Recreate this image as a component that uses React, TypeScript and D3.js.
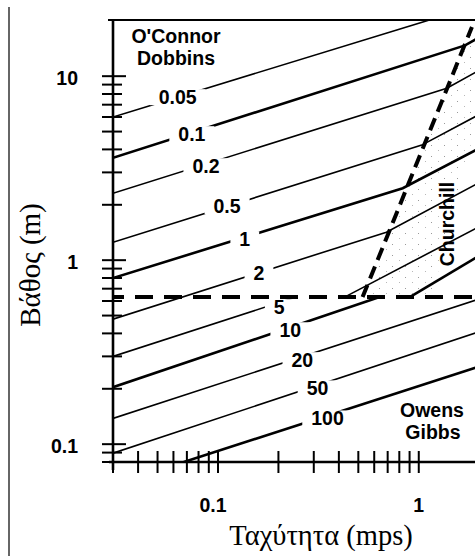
import React from 'react';
import * as d3 from 'd3';

// Reaeration coefficient lines (1/day), vertices: velocity (m/s), depth (m)
const kLabels = ['0.05', '0.1', '0.2', '0.5', '1', '2', '5', '10', '20', '50', '100'];
const k005V = [0.03, 1.13];
const k005D = [6.0, 20.2];
const k01V = [0.03, 1.7, 1.95];
const k01D = [3.6, 14.7, 16.0];
const k02V = [0.03, 1.38, 1.95];
const k02D = [2.31, 8.6, 10.6];
const k05V = [0.03, 1.035, 1.95];
const k05D = [1.25, 4.22, 6.1];
const k1V = [0.03, 0.832, 1.95];
const k1D = [0.8, 2.46, 4.0];
const k2V = [0.03, 0.69, 1.95];
const k2D = [0.478, 1.42, 2.6];
const k5V = [0.03, 0.245];
const k5D = [0.3, 0.63];
const k5ChurchillV = [0.427, 1.95];
const k5ChurchillD = [0.63, 1.5];
const k10V = [0.03, 0.638];
const k10D = [0.204, 0.63];
const k10ChurchillV = [0.902, 1.95];
const k10ChurchillD = [0.63, 1.04];
const k20V = [0.03, 1.95];
const k20D = [0.138, 0.61];
const k50V = [0.03, 1.95];
const k50D = [0.0893, 0.405];
const k100V = [0.0676, 1.95];
const k100D = [0.08, 0.262];

// where each k label sits
const labelV = [0.063, 0.0741, 0.0871, 0.111, 0.136, 0.16, 0.202, 0.229, 0.263, 0.313, 0.351];
const labelD = [7.69, 4.84, 3.24, 1.97, 1.3, 0.85, 0.555, 0.416, 0.286, 0.201, 0.138];

// regime boundaries
const owensDepth = 0.63;
const boundaryV = [0.525, 1.84];
const boundaryD = [0.63, 18.5];
// stippled transition band right of the boundary
const bandV = [0.525, 1.84, 1.95, 1.95, 1.16];
const bandD = [0.63, 18.5, 18.5, 5.77, 0.63];

const xTickLabels = [0.1, 1];
const yTickLabels = [0.1, 1, 10];

const W = 475;
const H = 556;
const left = 113;
const right = 477;
const top = 20;
const bottom = 462;

const x = d3.scaleLog().domain([0.03, 1.95]).range([left, right]);
const y = d3.scaleLog().domain([0.08, 20.2]).range([bottom, top]);

const sans = "'Liberation Sans', Arial, Helvetica, sans-serif";
const serif = "'Liberation Serif', 'Times New Roman', serif";

const toPts = (v: number[], d: number[]) => v.map((vv, i) => [x(vv), y(d[i])] as [number, number]);

export default function App() {
  const line = d3.line();

  const curves = [
    { v: k005V, d: k005D, bold: false },
    { v: k01V, d: k01D, bold: true },
    { v: k02V, d: k02D, bold: false },
    { v: k05V, d: k05D, bold: false },
    { v: k1V, d: k1D, bold: true },
    { v: k2V, d: k2D, bold: false },
    { v: k5V, d: k5D, bold: false },
    { v: k5ChurchillV, d: k5ChurchillD, bold: false },
    { v: k10V, d: k10D, bold: true },
    { v: k10ChurchillV, d: k10ChurchillD, bold: true },
    { v: k20V, d: k20D, bold: false },
    { v: k50V, d: k50D, bold: false },
    { v: k100V, d: k100D, bold: true },
  ];

  // minor + major ticks
  const yTicks: number[] = [];
  const xTicks: number[] = [];
  [0.01, 0.1, 1].forEach((p) => {
    for (let m = 1; m <= 9; m++) yTicks.push(+(m * p).toPrecision(3));
  });
  yTicks.push(10);
  [0.01, 0.1].forEach((p) => {
    for (let m = 1; m <= 9; m++) xTicks.push(+(m * p).toPrecision(3));
  });
  xTicks.push(1);
  const yT = yTicks.filter((t) => t >= 0.08 && t <= 10);
  const xT = xTicks.filter((t) => t >= 0.03 && t <= 1);

  const fontSize = 19.5;
  const charW = (s: string) => s.replace('.', '').length * 10.8 + (s.includes('.') ? 5.4 : 0);

  return (
    <svg width={W} height={H} style={{ position: 'absolute', left: 0, top: 0, background: '#fff' }}>
      <defs>
        <clipPath id="plot">
          <rect x={left} y={top} width={right - left} height={bottom - top} />
        </clipPath>
        <pattern id="stipple" width="13" height="11" patternUnits="userSpaceOnUse">
          <rect x="2" y="2" width="1" height="1" fill="#9a9a9a" />
          <rect x="9" y="7" width="1" height="1" fill="#b8b8b8" />
        </pattern>
      </defs>

      {/* page border on the left */}
      <line x1={9} x2={9} y1={7} y2={H} stroke="#333" strokeWidth={1.5} />

      <g clipPath="url(#plot)">
        <path d={line(toPts(bandV, bandD)) + 'Z'} fill="url(#stipple)" />
        {curves.map((c, i) => (
          <path
            key={i}
            d={line(toPts(c.v, c.d)) || ''}
            fill="none"
            stroke="#000"
            strokeWidth={c.bold ? 2.6 : 1.6}
          />
        ))}
      </g>

      {/* gaps behind the k labels */}
      {kLabels.map((k, i) => {
        const w = charW(k) + 18;
        return (
          <rect
            key={k}
            x={x(labelV[i]) - w / 2}
            y={y(labelD[i]) - 8}
            width={w}
            height={16}
            fill="#fff"
          />
        );
      })}

      {/* regime boundaries */}
      <g clipPath="url(#plot)">
        <line
          x1={x(0.03) - 7}
          x2={x(1.95)}
          y1={y(owensDepth)}
          y2={y(owensDepth)}
          stroke="#000"
          strokeWidth={4}
          strokeDasharray="18 11"
        />
        <path
          d={line(toPts(boundaryV, boundaryD)) || ''}
          stroke="#000"
          strokeWidth={4}
          strokeDasharray="13 7"
          fill="none"
        />
      </g>

      {kLabels.map((k, i) => (
        <text
          key={k}
          x={x(labelV[i])}
          y={y(labelD[i])}
          dy="0.36em"
          textAnchor="middle"
          fontFamily={sans}
          fontWeight="bold"
          fontSize={fontSize}
        >
          {k}
        </text>
      ))}

      <g fontFamily={sans} fontWeight="bold" fontSize={fontSize} textAnchor="middle">
        <text x={176} y={43}>O'Connor</text>
        <text x={176} y={65}>Dobbins</text>
        <text x={432} y={417}>Owens</text>
        <text x={433} y={439}>Gibbs</text>
        <text transform="translate(454,224) rotate(-90)">Churchill</text>
      </g>

      {/* axes */}
      <line x1={108} x2={W} y1={top} y2={top} stroke="#000" strokeWidth={2.2} />
      <line x1={left} x2={left} y1={top} y2={bottom + 8} stroke="#000" strokeWidth={2.6} />
      <line x1={left - 4} x2={W} y1={bottom} y2={bottom} stroke="#000" strokeWidth={2.6} />

      {yT.map((t) => {
        const major = yTickLabels.includes(t);
        return (
          <line
            key={'y' + t}
            x1={left - 11}
            x2={left + (major ? 13 : 9)}
            y1={y(t)}
            y2={y(t)}
            stroke="#000"
            strokeWidth={2}
          />
        );
      })}
      {xT.map((t) => (
        <line key={'x' + t} x1={x(t)} x2={x(t)} y1={bottom - 11} y2={bottom + 11} stroke="#000" strokeWidth={2} />
      ))}

      {yTickLabels.map((t) => (
        <text
          key={'yl' + t}
          x={78}
          y={y(t) + 9}
          textAnchor="end"
          fontFamily={sans}
          fontWeight="bold"
          fontSize={fontSize}
        >
          {t}
        </text>
      ))}
      {xTickLabels.map((t) => (
        <text
          key={'xl' + t}
          x={x(t) - (t < 1 ? 5 : 0)}
          y={512}
          textAnchor="middle"
          fontFamily={sans}
          fontWeight="bold"
          fontSize={fontSize}
        >
          {t}
        </text>
      ))}

      <text x={321} y={545} textAnchor="middle" fontFamily={serif} fontSize={28.5}>
        Ταχύτητα (mps)
      </text>
      <text transform="translate(40,265) rotate(-90)" textAnchor="middle" fontFamily={serif} fontSize={29}>
        Βάθος (m)
      </text>
    </svg>
  );
}
